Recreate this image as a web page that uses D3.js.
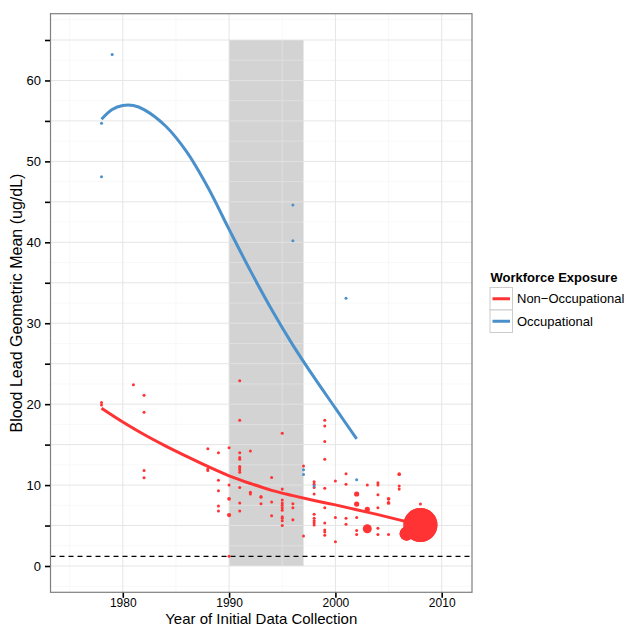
<!DOCTYPE html>
<html>
<head>
<meta charset="utf-8">
<script src="https://cdn.jsdelivr.net/npm/d3@7/dist/d3.min.js"></script>
<style>
  body { margin: 0; background: #fff; }
  svg { display: block; font-family: "Liberation Sans", Arial, Helvetica, sans-serif; }
</style>
</head>
<body>
<div id="chart"></div>
<script>
// Blood lead vs year, ggplot-style (theme_bw) rebuild in D3

// [year, geometric mean ug/dL, relative sample weight]
const nonOccupational = [
  [1978, 20.2, 1], [1978, 19.9, 1],
  [1981, 22.4, 1],
  [1982, 21.1, 1], [1982, 19.0, 1], [1982, 11.8, 1], [1982, 10.9, 1],
  [1988, 14.5, 1], [1988, 12.0, 1], [1988, 11.8, 1],
  [1989, 14.0, 1], [1989, 10.6, 1], [1989, 9.3, 1], [1989, 7.4, 1], [1989, 6.8, 1],
  [1990, 14.6, 1], [1990, 10.0, 1], [1990, 8.3, 1.5], [1990, 6.3, 2], [1990, 1.2, 1],
  [1991, 22.9, 1], [1991, 18.0, 1], [1991, 14.0, 1], [1991, 13.4, 1], [1991, 13.2, 1],
  [1991, 12.3, 1], [1991, 12.1, 1], [1991, 11.85, 1], [1991, 11.6, 1], [1991, 9.7, 1],
  [1991, 7.8, 1], [1991, 6.8, 1],
  [1992, 14.2, 1], [1992, 10.2, 1], [1992, 9.1, 1], [1992, 8.9, 1],
  [1993, 8.6, 1], [1993, 8.5, 1], [1993, 7.7, 1],
  [1994, 10.95, 1], [1994, 7.9, 1], [1994, 6.2, 1],
  [1995, 16.4, 1], [1995, 9.5, 1], [1995, 8.15, 1], [1995, 7.8, 1], [1995, 7.5, 1],
  [1995, 7.2, 1], [1995, 6.9, 1], [1995, 6.1, 1], [1995, 5.9, 1], [1995, 5.6, 1], [1995, 5.0, 1],
  [1996, 7.7, 1], [1996, 7.2, 1], [1996, 5.7, 1],
  [1997, 12.35, 1], [1997, 3.7, 1],
  [1998, 10.4, 1], [1998, 10.1, 1], [1998, 9.7, 1], [1998, 8.9, 1], [1998, 6.4, 1],
  [1998, 5.9, 1], [1998, 5.6, 1], [1998, 5.35, 1], [1998, 5.06, 1],
  [1999, 18.0, 1], [1999, 17.3, 1], [1999, 15.4, 1], [1999, 13.2, 1], [1999, 9.6, 1],
  [1999, 7.2, 1], [1999, 5.3, 1], [1999, 4.45, 1], [1999, 4.2, 1], [1999, 3.8, 1],
  [2000, 10.5, 1], [2000, 6.0, 1], [2000, 3.0, 1],
  [2001, 11.4, 1], [2001, 10.1, 1], [2001, 5.9, 1], [2001, 5.15, 1],
  [2002, 8.9, 3], [2002, 7.65, 3], [2002, 6.0, 1], [2002, 4.4, 1], [2002, 3.9, 1],
  [2003, 10.0, 1], [2003, 7.0, 3], [2003, 4.6, 9],
  [2004, 10.3, 1], [2004, 10.0, 1], [2004, 8.8, 1], [2004, 7.2, 1], [2004, 4.65, 1], [2004, 3.9, 1],
  [2005, 8.3, 1.5], [2005, 7.8, 1.5], [2005, 3.9, 1],
  [2006, 11.35, 1.5], [2006, 9.9, 1], [2006, 9.5, 1],
  [2006.7, 4.0, 22],
  [2008, 7.65, 1], [2008, 5.06, 128]
];

const occupational = [
  [1978, 54.7, 1], [1978, 48.1, 1], [1979, 63.2, 1],
  [1996, 44.6, 1], [1996, 40.2, 1],
  [1997, 11.9, 1], [1997, 11.3, 1],
  [1998, 9.9, 1],
  [2001, 33.1, 1],
  [2002, 10.65, 1]
];

// smoothed trends
const nonOccTrendYears = [1978, 1980, 1982, 1984, 1986, 1988, 1990, 1992, 1994, 1996, 1998, 2000, 2002, 2004, 2006, 2008];
const nonOccTrendValues = [19.5, 17.8, 16.25, 14.85, 13.55, 12.3, 11.15, 10.2, 9.35, 8.7, 8.1, 7.55, 6.95, 6.35, 5.7, 5.05];
const occTrendYears = [1978, 1979, 1980, 1981, 1982, 1984, 1986, 1988, 1990, 1992, 1994, 1996, 1998, 2000, 2002];
const occTrendValues = [55.2, 56.4, 56.9, 56.9, 56.4, 54.4, 51.2, 46.8, 41.6, 36.5, 31.7, 27.3, 23.3, 19.5, 15.7];

const shadedYears = [1990, 1997];
const shadedLevels = [0, 65];
const referenceLevel = 1.2;

const xTicks = [1980, 1990, 2000, 2010];
const xMinorGrid = [1975, 1985, 1995, 2005];
const yTicks = [0, 5, 10, 15, 20, 25, 30, 35, 40, 45, 50, 55, 60, 65];
const yLabelled = [0, 10, 20, 30, 40, 50, 60];
const yMinorGrid = [-2.5, 2.5, 7.5, 12.5, 17.5, 22.5, 27.5, 32.5, 37.5, 42.5, 47.5, 52.5, 57.5, 62.5, 67.5];

const groups = ['Non\u2212Occupational', 'Occupational'];
const colors = ['#ff3333', '#4a90cb'];

const width = 626, height = 627;
const panel = { left: 50.5, right: 472, top: 13.7, bottom: 592.3 };

const svg = d3.select('#chart').append('svg')
  .attr('width', width)
  .attr('height', height);

const x = d3.scaleLinear().domain([1973.2, 2012.85]).range([panel.left, panel.right]);
const y = d3.scaleLinear().domain([-3.25, 68.25]).range([panel.bottom, panel.top]);
const r = d3.scaleSqrt().domain([0, 128]).range([0, 17]);
const color = d3.scaleOrdinal().domain(groups).range(colors);

// clip for the panel
const defs = svg.append('defs');
defs.append('clipPath').attr('id', 'panel-clip')
  .append('rect')
  .attr('x', panel.left).attr('y', panel.top)
  .attr('width', panel.right - panel.left).attr('height', panel.bottom - panel.top);

const g = svg.append('g').attr('clip-path', 'url(#panel-clip)');

// background grid
function drawGrid(parent, x0, x1, y0, y1, stroke, opacity, minorStroke) {
  const grid = parent.append('g').attr('opacity', opacity);
  grid.selectAll('.ymin').data(yMinorGrid).join('line')
    .attr('x1', x0).attr('x2', x1)
    .attr('y1', d => y(d)).attr('y2', d => y(d))
    .attr('stroke', minorStroke).attr('stroke-width', 0.8);
  grid.selectAll('.xmin').data(xMinorGrid).join('line')
    .attr('y1', y0).attr('y2', y1)
    .attr('x1', d => x(d)).attr('x2', d => x(d))
    .attr('stroke', minorStroke).attr('stroke-width', 0.8);
  grid.selectAll('.ymaj').data(yTicks).join('line')
    .attr('x1', x0).attr('x2', x1)
    .attr('y1', d => y(d)).attr('y2', d => y(d))
    .attr('stroke', stroke).attr('stroke-width', 1);
  grid.selectAll('.xmaj').data(xTicks).join('line')
    .attr('y1', y0).attr('y2', y1)
    .attr('x1', d => x(d)).attr('x2', d => x(d))
    .attr('stroke', stroke).attr('stroke-width', 1);
  return grid;
}

g.append('rect')
  .attr('x', panel.left).attr('y', panel.top)
  .attr('width', panel.right - panel.left).attr('height', panel.bottom - panel.top)
  .attr('fill', '#fff');

drawGrid(g, panel.left, panel.right, panel.top, panel.bottom, '#e5e5e5', 1, '#f6f6f6');

// shaded period
g.append('rect')
  .attr('x', x(shadedYears[0]))
  .attr('y', y(shadedLevels[1]))
  .attr('width', x(shadedYears[1]) - x(shadedYears[0]))
  .attr('height', y(shadedLevels[0]) - y(shadedLevels[1]))
  .attr('fill', '#d3d3d3');

// grid shows faintly through the shaded block
defs.append('clipPath').attr('id', 'shade-clip')
  .append('rect')
  .attr('x', x(shadedYears[0])).attr('y', y(shadedLevels[1]))
  .attr('width', x(shadedYears[1]) - x(shadedYears[0]))
  .attr('height', y(shadedLevels[0]) - y(shadedLevels[1]));
const shadeGrid = g.append('g').attr('clip-path', 'url(#shade-clip)');
drawGrid(shadeGrid, panel.left, panel.right, panel.top, panel.bottom, '#ffffff', 0.35, '#ffffff');

// reference line
g.append('line')
  .attr('x1', panel.left).attr('x2', panel.right)
  .attr('y1', y(referenceLevel)).attr('y2', y(referenceLevel))
  .attr('stroke', '#000')
  .attr('stroke-width', 1.3)
  .attr('stroke-dasharray', '5,4');

// points
const series = [
  { name: groups[0], points: nonOccupational },
  { name: groups[1], points: occupational }
];

series.forEach(function(s) {
  g.append('g').selectAll('circle')
    .data(s.points)
    .join('circle')
    .attr('cx', d => x(d[0]))
    .attr('cy', d => y(d[1]))
    .attr('r', d => r(d[2]))
    .attr('fill', color(s.name));
});

// smoothed trends
const line = d3.line()
  .x(d => x(d[0]))
  .y(d => y(d[1]))
  .curve(d3.curveCatmullRom.alpha(0.5));

const trends = [
  { name: groups[0], pts: nonOccTrendYears.map((yr, i) => [yr, nonOccTrendValues[i]]) },
  { name: groups[1], pts: occTrendYears.map((yr, i) => [yr, occTrendValues[i]]) }
];

trends.forEach(function(t) {
  g.append('path')
    .attr('d', line(t.pts))
    .attr('fill', 'none')
    .attr('stroke', color(t.name))
    .attr('stroke-width', 3);
});

// big circle on top of the line end
g.append('g').selectAll('circle')
  .data(nonOccupational.filter(d => d[2] > 10))
  .join('circle')
  .attr('cx', d => x(d[0]))
  .attr('cy', d => y(d[1]))
  .attr('r', d => r(d[2]))
  .attr('fill', color(groups[0]));

// panel border
svg.append('rect')
  .attr('x', panel.left).attr('y', panel.top)
  .attr('width', panel.right - panel.left).attr('height', panel.bottom - panel.top)
  .attr('fill', 'none')
  .attr('stroke', '#7f7f7f')
  .attr('stroke-width', 1.2);

// axes
const yAxis = d3.axisLeft(y)
  .tickValues(yTicks)
  .tickSize(5)
  .tickPadding(4)
  .tickFormat(d => yLabelled.includes(d) ? d : '');

const xAxis = d3.axisBottom(x)
  .tickValues(xTicks)
  .tickSize(5)
  .tickPadding(1)
  .tickFormat(d3.format('d'));

function styleAxis(sel, size) {
  sel.select('.domain').remove();
  sel.selectAll('.tick line').attr('stroke', '#000').attr('stroke-width', 1.6);
  sel.selectAll('.tick text')
    .attr('fill', '#000')
    .attr('font-size', size)
    .attr('font-family', '"Liberation Sans", Arial, Helvetica, sans-serif');
}

svg.append('g')
  .attr('transform', 'translate(' + (panel.left - 0.5) + ',0)')
  .call(yAxis)
  .call(styleAxis, 13);

svg.append('g')
  .attr('transform', 'translate(0,' + (panel.bottom + 0.5) + ')')
  .call(xAxis)
  .call(styleAxis, 12);

// axis titles
svg.append('text')
  .attr('x', (panel.left + panel.right) / 2)
  .attr('y', 623.6)
  .attr('text-anchor', 'middle')
  .attr('font-size', 15)
  .attr('fill', '#000')
  .text('Year of Initial Data Collection');

svg.append('text')
  .attr('transform', 'translate(21.5,' + ((panel.top + panel.bottom) / 2) + ') rotate(-90)')
  .attr('text-anchor', 'middle')
  .attr('font-size', 16)
  .attr('fill', '#000')
  .text('Blood Lead Geometric Mean (ug/dL)');

// legend
const legend = svg.append('g').attr('transform', 'translate(490,287.5)');

legend.append('text')
  .attr('x', 0.5)
  .attr('y', -6)
  .attr('font-size', 13)
  .attr('font-weight', 'bold')
  .attr('fill', '#000')
  .text('Workforce Exposure');

const keySize = 22.5;
const item = legend.selectAll('.item')
  .data(groups)
  .join('g')
  .attr('transform', (d, i) => 'translate(0,' + (i * keySize) + ')');

item.append('rect')
  .attr('width', keySize).attr('height', keySize)
  .attr('fill', '#fff')
  .attr('stroke', '#cccccc')
  .attr('stroke-width', 1);

item.append('line')
  .attr('x1', 2.5).attr('x2', keySize - 2.5)
  .attr('y1', keySize / 2).attr('y2', keySize / 2)
  .attr('stroke', d => color(d))
  .attr('stroke-width', 3);

item.append('text')
  .attr('x', keySize + 4.5)
  .attr('y', keySize / 2)
  .attr('dy', '0.35em')
  .attr('font-size', 13)
  .attr('fill', '#000')
  .text(d => d);
</script>
</body>
</html>
